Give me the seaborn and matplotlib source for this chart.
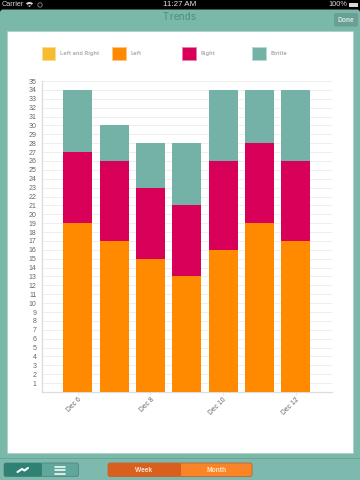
import numpy as np
import pandas as pd
import matplotlib
matplotlib.use('Agg')
import matplotlib.pyplot as plt
from matplotlib.patches import Rectangle, FancyBboxPatch, Wedge, Circle
import seaborn as sns

days = ['Dec 6', 'Dec 7', 'Dec 8', 'Dec 9', 'Dec 10', 'Dec 11', 'Dec 12']
left = [19, 17, 15, 13, 16, 19, 17]
right = [8, 9, 8, 8, 10, 9, 9]
bottle = [7, 4, 5, 7, 8, 6, 8]
both = [0, 0, 0, 0, 0, 0, 0]
shown_days = ['Dec 6', 'Dec 8', 'Dec 10', 'Dec 12']
legend_names = ['Left and Right', 'Left', 'Right', 'Bottle']
legend_colors = ['#f6bb2f', '#ff8a00', '#d9005a', '#74b2a7']
legend_edges = ['#fbdc95', '#ffc47f', '#ec7fac', '#b9d8d3']

sns.set_theme(style='white')
plt.rcParams['font.family'] = ['Liberation Sans', 'DejaVu Sans']

fig = plt.figure(figsize=(3.6, 4.8), dpi=100)
fig.patch.set_facecolor('black')

# app chrome, in pixel coordinates
bg = fig.add_axes([0, 0, 1, 1])
bg.set_xlim(0, 360)
bg.set_ylim(480, 0)
bg.axis('off')

def round_box(x, y, w, h, color, r=2, z=1, edge='none'):
    bg.add_patch(FancyBboxPatch((x + r, y + r), w - 2 * r, h - 2 * r,
                                boxstyle='round,pad=%s' % r, fc=color, ec=edge, lw=0.6, zorder=z))

# status bar
bg.add_patch(Rectangle((0, 0), 360, 12, fc='black', ec='none', zorder=0.2))
bg.text(2, 5, 'Carrier', color='#d8d8d8', fontsize=5.3, va='center', zorder=3)
bg.add_patch(Wedge((29.5, 7), 5, 225, 315, fc='#d8d8d8', ec='none', zorder=3))
bg.add_patch(Wedge((29.5, 7), 3, 225, 315, fc='black', ec='none', zorder=3))
bg.add_patch(Wedge((29.5, 7), 1.6, 225, 315, fc='#d8d8d8', ec='none', zorder=3))
bg.add_patch(Circle((40, 5), 2.2, fc='none', ec='#777777', lw=0.7, zorder=3))
bg.text(180, 5, '11:27 AM', color='#e4e4e4', fontsize=5.8, ha='center', va='center', zorder=3)
bg.text(347, 5, '100%', color='#d8d8d8', fontsize=5.3, ha='right', va='center', zorder=3)
bg.add_patch(Rectangle((349, 2.7), 9, 4.6, fc='#d8d8d8', ec='none', zorder=3))

# teal panel, header and footer
round_box(0, 9.5, 360, 480, '#7ab8aa', r=3, z=0.4)
for lx, ch in zip([165.5, 171.5, 176.5, 181.5, 187.5, 193], 'Trends'):
    bg.text(lx, 17.5, ch, color='#4a8d83', fontsize=7, ha='center', va='center', zorder=3)
round_box(334, 13, 24, 13.5, '#6a9f95', z=2)
bg.text(346, 20, 'Done', color='#d8e8e4', fontsize=4.8, weight='bold', ha='center', va='center', zorder=3)
bg.add_patch(Rectangle((0, 458), 360, 22, fc='#7dbaad', ec='none', zorder=0.5))
bg.plot([0, 360], [458, 458], color='#6ba599', lw=0.7, zorder=1)

# white card
bg.add_patch(Rectangle((7, 30.5), 346.3, 422, fc='white', ec='#a9cfc6', lw=0.5, zorder=2))

# bottom segmented controls
round_box(4, 463, 74.5, 13.5, '#5fa79b', z=2, edge='#4f8a80')
round_box(4, 463, 38, 13.5, '#2f8174', z=2.5)
bg.plot([17.5, 22, 24.5, 28], [472, 469, 470.5, 468], color='white', lw=1.5, zorder=3)
for hy in [466.5, 470, 473.5]:
    bg.plot([55, 65], [hy, hy], color='white', lw=1.1, zorder=3)
round_box(108, 463, 144, 13.5, '#fb8426', z=2, edge='#b9653a')
round_box(108, 463, 73, 13.5, '#d95f1f', z=2.5)
bg.text(144, 470, 'Week', color='#fbe3d2', fontsize=4.8, weight='bold', ha='center', va='center', zorder=3)
bg.text(216.5, 470, 'Month', color='#fde6c8', fontsize=4.8, weight='bold', ha='center', va='center', zorder=3)

# legend
for sx, name, c, e in zip([41.5, 112, 182, 252], legend_names, legend_colors, legend_edges):
    bg.add_patch(Rectangle((sx, 46.5), 13.5, 13.5, fc=c, ec=e, lw=0.7, zorder=3))
    bg.text(sx + 18.5, 53.5, name, color='#b4b4b4', fontsize=4.4, weight='bold',
            family='Roboto', va='center', zorder=3)

# chart
ax = fig.add_axes([41.5 / 360, (480 - 392) / 480, 290.5 / 360, 311 / 480])
ax.patch.set_alpha(0)
df = pd.DataFrame({'day': days, 'both': both, 'left': left, 'right': right, 'bottle': bottle})
base = np.zeros(len(df))
for col, c in zip(['both', 'left', 'right', 'bottle'], legend_colors):
    sns.barplot(data=df, x='day', y=col, color=c, bottom=base, width=0.8,
                saturation=1, linewidth=0, ax=ax)
    base = base + df[col].to_numpy()
for p in ax.patches:
    p.set_zorder(5)

ax.set_xlim(-1, 7.0)
ax.set_ylim(0, 35)
ax.set_xlabel('')
ax.set_ylabel('')
ax.set_yticks(range(1, 36))
ax.set_yticklabels([str(v) for v in range(1, 36)], fontsize=5.0, color='#666666')
ax.set_xticks([days.index(d) for d in shown_days])
ax.set_xticklabels([])
for d in shown_days:
    ax.annotate(d, xy=(days.index(d), 0), xycoords=('data', 'axes fraction'),
                xytext=(1.8, -5), textcoords='offset points', fontsize=4.9, color='#666666',
                rotation=45, ha='right', va='center', rotation_mode='anchor', annotation_clip=False)
ax.tick_params(axis='y', length=0, pad=3.5)
ax.tick_params(axis='x', length=2.5, width=0.5, color='#dddddd', bottom=True)
ax.grid(axis='y', color='#eeeeee', lw=0.7)
ax.set_axisbelow(True)
for s in ['top', 'right']:
    ax.spines[s].set_visible(False)
for s in ['left', 'bottom']:
    ax.spines[s].set_color('#dcdcdc')
    ax.spines[s].set_linewidth(0.9)

fig.savefig('out.png', dpi=100, facecolor=fig.get_facecolor())
